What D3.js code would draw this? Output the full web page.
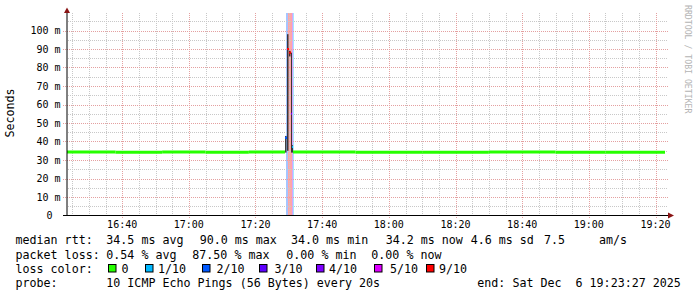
<!DOCTYPE html>
<html>
<head>
  <meta charset="utf-8">
  <title>Smokeping</title>
  <script src="https://cdn.jsdelivr.net/npm/d3@7"></script>
  <style>
    body { margin: 0; background: #fff; }
    text { font-family: 'DejaVu Sans Mono', monospace; white-space: pre; }
  </style>
</head>
<body>
  <svg width="697" height="297" id="mainsvg"></svg>
  <script>
    // samples: start time, median rtt (ms), lost pings of 10, smoke min / max (ms)
    const sampleTimes = ['16:23:27', '16:38:00', '16:52:00', '17:05:00', '17:18:00', '17:28:33',
      '17:28:51', '17:29:27', '17:30:03', '17:30:39', '17:30:57', '17:31:15',
      '17:50:00', '18:10:00', '18:30:00', '18:50:00', '19:05:00', '19:22:51'];
    const medianRtt = [34.3, 34.2, 34.3, 34.2, 34.3, 34.3,
      42.0, 90.0, 88.0, 55.0, 37.0, 34.3,
      34.2, 34.2, 34.3, 34.2, 34.2, 34.2];
    const lossCount = [0, 0, 0, 0, 0, 0,
      2, 9, 9, 4, 1, 0,
      0, 0, 0, 0, 0, 0];
    const smokeMin = [34.0, 34.0, 34.0, 34.0, 34.0, 34.0,
      34.0, 35.0, 86.0, 34.0, 34.0, 34.0,
      34.0, 34.0, 34.0, 34.0, 34.0, 34.0];
    const smokeMax = [34.6, 34.5, 34.6, 34.5, 34.6, 34.6,
      43.0, 98.0, 89.0, 88.0, 38.0, 34.6,
      34.5, 34.5, 34.6, 34.5, 34.5, 34.5];

    const yTicks = [0, 10, 20, 30, 40, 50, 60, 70, 80, 90, 100];
    const xTickLabels = ['16:40', '17:00', '17:20', '17:40', '18:00', '18:20', '18:40', '19:00', '19:20'];

    const lossLabels = ['0', '1/10', '2/10', '3/10', '4/10', '5/10', '9/10'];
    const lossValues = [0, 1, 2, 3, 4, 5, 9];
    const lossColors = ['#26ff00', '#00b8ff', '#0059ff', '#5e00ff', '#7e00ff', '#dd00ff', '#ff0000'];

    const rttStats = ['34.5 ms avg', '90.0 ms max', '34.0 ms min', '34.2 ms now', '4.6 ms sd', '7.5', 'am/s'];
    const lossStats = ['0.54 % avg', '87.50 % max', '0.00 % min', '0.00 % now'];
    const probeText = '10 ICMP Echo Pings (56 Bytes) every 20s';
    const endText = 'end: Sat Dec  6 19:23:27 2025';

    const svg = d3.select('#mainsvg');
    const parse = d3.timeParse('%Y-%m-%d %H:%M:%S');
    const t = s => parse('2025-12-06 ' + s);
    const start = t('16:23:27'), end = t('19:23:27');

    const x = d3.scaleTime().domain([start, end]).range([67, 667]);
    const y = d3.scaleLinear().domain([0, 100]).range([215.5, 30.5]);
    const plotTop = 13;
    const lossColor = n => lossColors[Math.max(0, lossValues.findIndex(v => v >= n))];

    const samples = sampleTimes.map((s, i) => ({
      t0: t(s), t1: i < sampleTimes.length - 1 ? t(sampleTimes[i + 1]) : t(s),
      med: medianRtt[i], loss: lossCount[i], lo: smokeMin[i], hi: smokeMax[i]
    })).slice(0, -1);

    // loss background bands
    svg.append('g').selectAll('rect').data(samples.filter(d => d.loss > 0)).join('rect')
      .attr('x', d => x(d.t0) + 1).attr('width', d => x(d.t1) - x(d.t0))
      .attr('y', plotTop).attr('height', 215 - plotTop)
      .attr('fill', d => lossColor(d.loss)).attr('opacity', 0.35);

    // grid
    const grid = svg.append('g');
    const minorT = d3.timeMinute.every(5).range(start, end);
    grid.selectAll('.vminor').data(minorT.filter(d => d.getMinutes() % 20 !== 0)).join('line')
      .attr('x1', d => Math.round(x(d)) + 0.5).attr('x2', d => Math.round(x(d)) + 0.5)
      .attr('y1', plotTop).attr('y2', 215)
      .attr('stroke', '#c8c8c8').attr('stroke-dasharray', '1,1');
    grid.selectAll('.hminor').data(d3.range(5, 110, 10)).join('line')
      .attr('x1', 68).attr('x2', 668)
      .attr('y1', d => Math.round(y(d)) + 0.5).attr('y2', d => Math.round(y(d)) + 0.5)
      .attr('stroke', '#c8c8c8').attr('stroke-dasharray', '1,1');
    grid.selectAll('.vmajor').data(minorT.filter(d => d.getMinutes() % 20 === 0)).join('line')
      .attr('x1', d => Math.round(x(d)) + 0.5).attr('x2', d => Math.round(x(d)) + 0.5)
      .attr('y1', plotTop).attr('y2', 218)
      .attr('stroke', '#e4a0a0').attr('stroke-dasharray', '1,1');
    grid.selectAll('.hmajor').data(yTicks.slice(1)).join('line')
      .attr('x1', 63).attr('x2', 668)
      .attr('y1', d => Math.round(y(d)) + 0.5).attr('y2', d => Math.round(y(d)) + 0.5)
      .attr('stroke', '#e4a0a0').attr('stroke-dasharray', '1,1');

    // median line, coloured by loss
    svg.append('g').selectAll('path').data(samples).join('path')
      .attr('d', d => `M${x(d.t0)},${y(d.med)}H${x(d.t1)}`)
      .attr('fill', 'none')
      .attr('stroke', d => lossColor(d.loss))
      .attr('stroke-width', d => d.loss > 0 ? 2 : 3);

    // smoke (drawn over the connectors of the median)
    svg.append('g').selectAll('rect').data(samples.filter(d => d.hi - d.lo > 1)).join('rect')
      .attr('x', d => x(d.t0)).attr('width', d => Math.max(1, x(d.t1) - x(d.t0) - 0.5))
      .attr('y', d => y(d.hi)).attr('height', d => y(d.lo) - y(d.hi))
      .attr('fill', '#1e1e1e').attr('opacity', 0.85);

    // median markers of the lossy samples on top
    svg.append('g').selectAll('path').data(samples.filter(d => d.loss > 0)).join('path')
      .attr('d', d => `M${x(d.t0)},${y(d.med)}H${x(d.t1)}`)
      .attr('stroke', d => lossColor(d.loss))
      .attr('stroke-width', 2);

    // axes
    svg.append('line').attr('x1', 63).attr('x2', 668).attr('y1', 215.5).attr('y2', 215.5)
      .attr('stroke', '#000');
    svg.append('line').attr('x1', 67).attr('x2', 67).attr('y1', 216).attr('y2', 12)
      .attr('stroke', '#000');
    svg.append('path').attr('d', 'M64,13L70,13L67,7.5Z').attr('fill', '#8a1414');
    svg.append('path').attr('d', 'M668,212.5L668,218.5L674,215.5Z').attr('fill', '#8a1414');

    // y labels
    svg.append('g').selectAll('text').data(yTicks).join('text')
      .attr('x', d => d === 0 ? 52.5 : 60.5)
      .attr('y', d => y(d) + 3.6)
      .attr('text-anchor', 'end')
      .attr('font-size', '10px')
      .text(d => d === 0 ? '0' : d + ' m');

    // x labels
    svg.append('g').selectAll('text').data(xTickLabels).join('text')
      .attr('x', d => x(t(d + ':00')))
      .attr('y', 227.5)
      .attr('text-anchor', 'middle')
      .attr('font-size', '10px')
      .text(d => d);

    svg.append('text')
      .attr('transform', 'translate(13.5,113) rotate(-90)')
      .attr('text-anchor', 'middle')
      .attr('font-size', '11.66px')
      .text('Seconds');

    svg.append('text')
      .attr('transform', 'translate(684.5,5) rotate(90)')
      .attr('font-size', '8.2px')
      .attr('fill', '#b4b4b4')
      .text('RRDTOOL / TOBI OETIKER');

    // legend
    const leg = svg.append('g').attr('font-size', '11.66px');
    const rows = [244.3, 258.5, 272.7, 286.8];
    const heads = ['median rtt:', 'packet loss:', 'loss color:', 'probe:'];
    leg.selectAll('.head').data(heads).join('text')
      .attr('x', 15.5).attr('y', (d, i) => rows[i]).text(d => d);

    const rttX = [106.3, 199.7, 291, 385.7, 470.7, 544, 599];
    leg.selectAll('.rtt').data(rttStats).join('text')
      .attr('x', (d, i) => rttX[i]).attr('y', rows[0]).text(d => d);

    const lossX = [106.3, 192.3, 286.3, 371.3];
    leg.selectAll('.loss').data(lossStats).join('text')
      .attr('x', (d, i) => lossX[i]).attr('y', rows[1]).text(d => d);

    const boxX = [108.5, 145.5, 202.5, 259.5, 316.5, 374.5, 426.5];
    const labX = [121.5, 158, 216.5, 274.5, 329, 390, 439];
    leg.selectAll('.box').data(lossLabels).join('rect')
      .attr('x', (d, i) => boxX[i]).attr('y', 264.5).attr('width', 7.5).attr('height', 7.5)
      .attr('fill', (d, i) => lossColors[i]).attr('stroke', '#000');
    leg.selectAll('.lab').data(lossLabels).join('text')
      .attr('x', (d, i) => labX[i]).attr('y', rows[2]).text(d => d);

    leg.append('text').attr('x', 106.3).attr('y', rows[3]).text(probeText);
    leg.append('text').attr('x', 477.3).attr('y', rows[3]).text(endText);
  </script>
</body>
</html>
